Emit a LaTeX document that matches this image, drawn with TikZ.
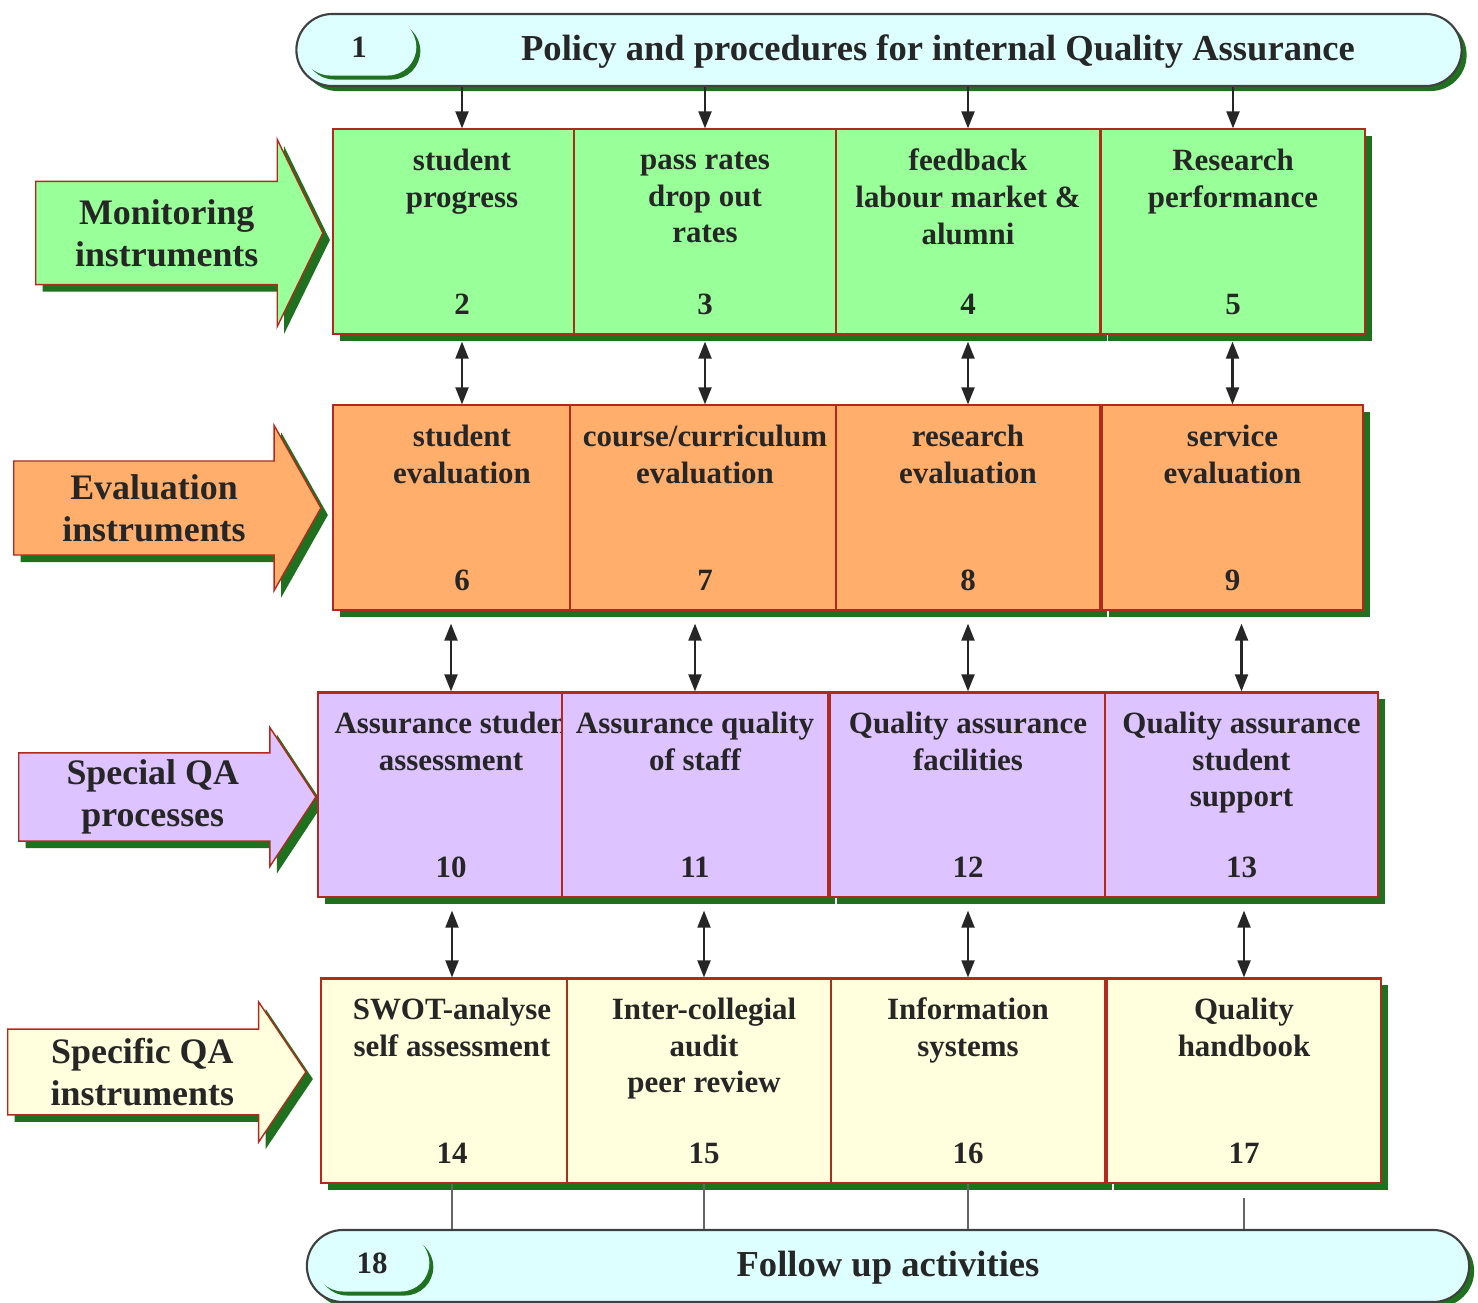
\documentclass[tikz,border=0pt]{standalone}
\usepackage{fontspec}
\setmainfont{Liberation Serif}
\usetikzlibrary{arrows.meta,positioning,shapes.misc,shapes.arrows,shadows}
\definecolor{mongreen}{HTML}{99FF99}
\definecolor{evalorange}{HTML}{FFAE6C}
\definecolor{spclilac}{HTML}{DDC3FF}
\definecolor{specyellow}{HTML}{FFFFDD}
\definecolor{bancyan}{HTML}{DDFFFF}
\definecolor{cellred}{HTML}{B02A1E}
\definecolor{shgreen}{HTML}{1F701F}

\begin{document}
\begin{tikzpicture}[x=0.01cm, y=-0.01cm, >={Triangle[length=0.17cm,width=0.13cm]},
  every node/.style={text=black!85, font=\bfseries},
  shad/.style={drop shadow={shadow xshift=0.07cm, shadow yshift=-0.07cm, fill=shgreen, opacity=1}},
  cell/.style={draw=cellred, line width=0.6pt, minimum height=2.04cm, inner sep=0pt, shad},
  ttl/.style={align=center, inner sep=0pt, font=\bfseries\fontsize{8.8}{10.4}\selectfont},
  num/.style={inner sep=0pt, font=\bfseries\fontsize{8.8}{10.4}\selectfont},
  side/.style={single arrow, single arrow head indent=0pt, draw=cellred, line width=0.4pt,
    align=center, inner sep=0pt, anchor=tail, shad, font=\bfseries\fontsize{10.2}{12}\selectfont},
  banner/.style={rounded rectangle, draw=black!75, line width=0.6pt, fill=bancyan,
    drop shadow={shadow xshift=0.05cm, shadow yshift=-0.05cm, fill=shgreen, opacity=1}},
  pill/.style={rounded rectangle, fill=bancyan, minimum width=1.38cm, minimum height=0.57cm,
    font=\bfseries\fontsize{8.8}{10.4}\selectfont,
    drop shadow={shadow xshift=0.04cm, shadow yshift=-0.04cm, fill=shgreen, opacity=1}},
  bantext/.style={inner sep=0pt, font=\bfseries\fontsize{10.4}{12}\selectfont},
  link/.style={<->, black!85, line width=0.6pt}]
\useasboundingbox (0,0) rectangle (1478,1303);

% top and bottom banners
\node[banner, minimum width=11.88cm, minimum height=0.72cm] (pol) at (879,50) {};
\node[pill] (p1) at (359,47) {1};
\node[bantext] (poltxt) at (938,52) {Policy and procedures for internal Quality Assurance};
\node[banner, minimum width=11.85cm, minimum height=0.72cm] (fol) at (888,1266) {};
\node[pill] (p18) at (372,1263) {18};
\node[bantext] (foltxt) at (888,1268) {Follow up activities};

% side arrows
\node[side, fill=mongreen, minimum height=2.87cm, minimum width=1.87cm,
  single arrow head extend=0.28cm, single arrow tip angle=128] (mon) at (35,233) {Monitoring\\ instruments};
\node[side, fill=evalorange, minimum height=3.07cm, minimum width=1.65cm,
  single arrow head extend=0.26cm, single arrow tip angle=121] (eva) at (13,508) {Evaluation\\ instruments};
\node[side, fill=spclilac, minimum height=2.97cm, minimum width=1.39cm,
  single arrow head extend=0.22cm, single arrow tip angle=113] (spc) at (18,797) {Special QA\\ processes};
\node[side, fill=specyellow, minimum height=2.98cm, minimum width=1.40cm,
  single arrow head extend=0.22cm, single arrow tip angle=112] (spf) at (7,1072) {Specific QA\\ instruments};

% row 1: monitoring
\node[cell, fill=mongreen, minimum width=2.58cm] (c2) at (462,231.5) {};
\node[ttl, below=0.20cm of c2.north] (t2) {student\\ progress}; \node[num, above=0.19cm of c2.south] (n2) {2};
\node[cell, fill=mongreen, minimum width=2.62cm] (c3) at (705,231.5) {};
\node[ttl, below=0.23cm of c3.north] (t3) {pass rates\\ drop out\\ rates}; \node[num, above=0.19cm of c3.south] (n3) {3};
\node[cell, fill=mongreen, minimum width=2.64cm] (c4) at (968,231.5) {};
\node[ttl, below=0.20cm of c4.north] (t4) {feedback\\ labour market \&\\ alumni}; \node[num, above=0.19cm of c4.south] (n4) {4};
\node[cell, fill=mongreen, minimum width=2.64cm] (c5) at (1233,231.5) {};
\node[ttl, below=0.20cm of c5.north] (t5) {Research\\ performance}; \node[num, above=0.19cm of c5.south] (n5) {5};

% row 2: evaluation
\node[cell, fill=evalorange, minimum width=2.58cm] (c6) at (462,507.5) {};
\node[ttl, below=0.20cm of c6.north] (t6) {student\\ evaluation}; \node[num, above=0.19cm of c6.south] (n6) {6};
\node[cell, fill=evalorange, minimum width=2.70cm] (c7) at (705,507.5) {};
\node[ttl, below=0.20cm of c7.north] (t7) {course/curriculum\\ evaluation}; \node[num, above=0.19cm of c7.south] (n7) {7};
\node[cell, fill=evalorange, minimum width=2.64cm] (c8) at (968,507.5) {};
\node[ttl, below=0.20cm of c8.north] (t8) {research\\ evaluation}; \node[num, above=0.19cm of c8.south] (n8) {8};
\node[cell, fill=evalorange, minimum width=2.60cm] (c9) at (1232.5,507.5) {};
\node[ttl, below=0.20cm of c9.north] (t9) {service\\ evaluation}; \node[num, above=0.19cm of c9.south] (n9) {9};

% row 3: special QA processes
\node[cell, fill=spclilac, minimum width=2.66cm] (c10) at (451,794.5) {};
\node[ttl, below=0.20cm of c10.north] (t10) {Assurance studen\\ assessment}; \node[num, above=0.19cm of c10.south] (n10) {10};
\node[cell, fill=spclilac, minimum width=2.66cm] (c11) at (695,794.5) {};
\node[ttl, below=0.20cm of c11.north] (t11) {Assurance quality\\ of staff}; \node[num, above=0.19cm of c11.south] (n11) {11};
\node[cell, fill=spclilac, minimum width=2.76cm] (c12) at (968,794.5) {};
\node[ttl, below=0.20cm of c12.north] (t12) {Quality assurance\\ facilities}; \node[num, above=0.19cm of c12.south] (n12) {12};
\node[cell, fill=spclilac, minimum width=2.73cm] (c13) at (1241.5,794.5) {};
\node[ttl, below=0.20cm of c13.north] (t13) {Quality assurance\\ student\\ support}; \node[num, above=0.19cm of c13.south] (n13) {13};

% row 4: specific QA instruments
\node[cell, fill=specyellow, minimum width=2.62cm] (c14) at (452,1080.5) {};
\node[ttl, below=0.20cm of c14.north] (t14) {SWOT-analyse\\ self assessment}; \node[num, above=0.19cm of c14.south] (n14) {14};
\node[cell, fill=specyellow, minimum width=2.74cm] (c15) at (704,1080.5) {};
\node[ttl, below=0.20cm of c15.north] (t15) {Inter-collegial\\ audit\\ peer review}; \node[num, above=0.19cm of c15.south] (n15) {15};
\node[cell, fill=specyellow, minimum width=2.74cm] (c16) at (968,1080.5) {};
\node[ttl, below=0.20cm of c16.north] (t16) {Information\\ systems}; \node[num, above=0.19cm of c16.south] (n16) {16};
\node[cell, fill=specyellow, minimum width=2.74cm] (c17) at (1244,1080.5) {};
\node[ttl, below=0.20cm of c17.north] (t17) {Quality\\ handbook}; \node[num, above=0.19cm of c17.south] (n17) {17};

% connectors
\draw[->, black!85, line width=0.6pt] (pol.south -| c2.north) -- (c2.north);
\draw[->, black!85, line width=0.6pt] (pol.south -| c3.north) -- (c3.north);
\draw[->, black!85, line width=0.6pt] (pol.south -| c4.north) -- (c4.north);
\draw[->, black!85, line width=0.6pt] (pol.south -| c5.north) -- (c5.north);
\draw[link, shorten <=0.07cm] (c2.south) -- (c6.north);
\draw[link, shorten <=0.07cm] (c3.south) -- (c7.north);
\draw[link, shorten <=0.07cm] (c4.south) -- (c8.north);
\draw[link, shorten <=0.07cm] (c5.south -| c9.north) -- (c9.north);
\draw[link, shorten <=0.13cm] (c6.south -| c10.north) -- (c10.north);
\draw[link, shorten <=0.13cm] (c7.south -| c11.north) -- (c11.north);
\draw[link, shorten <=0.13cm] (c8.south -| c12.north) -- (c12.north);
\draw[link, shorten <=0.13cm] (c9.south -| c13.north) -- (c13.north);
\draw[link, shorten <=0.13cm] (c10.south -| c14.north) -- (c14.north);
\draw[link, shorten <=0.13cm] (c11.south -| c15.north) -- (c15.north);
\draw[link, shorten <=0.13cm] (c12.south -| c16.north) -- (c16.north);
\draw[link, shorten <=0.13cm] (c13.south -| c17.north) -- (c17.north);
\draw[black!60, line width=0.6pt] (c14.south) -- (c14.south |- fol.north);
\draw[black!60, line width=0.6pt] (c15.south) -- (c15.south |- fol.north);
\draw[black!60, line width=0.6pt] (c16.south) -- (c16.south |- fol.north);
\draw[black!60, line width=0.6pt, shorten <=0.14cm] (c17.south) -- (c17.south |- fol.north);
\end{tikzpicture}
\end{document}
